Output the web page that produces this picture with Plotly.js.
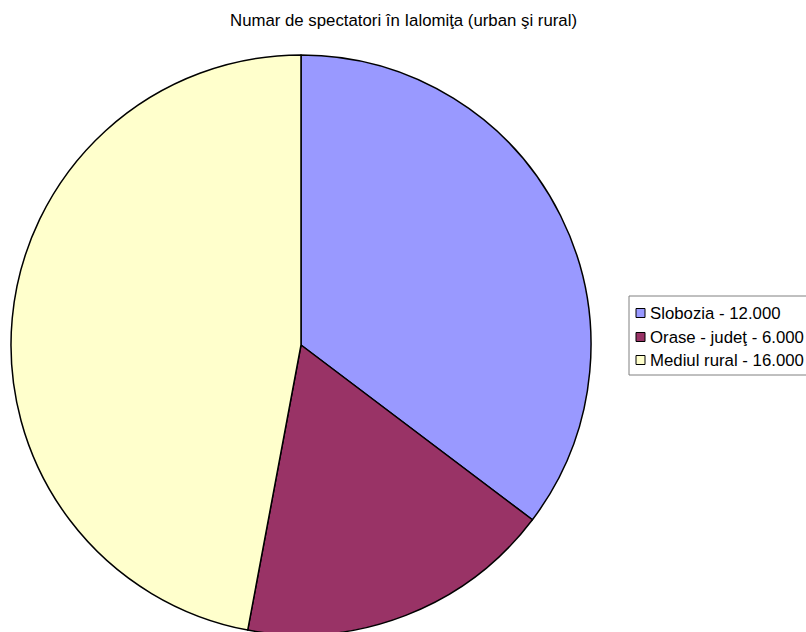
<!DOCTYPE html>
<html><head><meta charset="utf-8">
<script src="https://cdn.plot.ly/plotly-3.0.1.min.js"></script>
<style>html,body{margin:0;padding:0;overflow:hidden;background:#fff}</style>
</head><body>
<div id="chart" style="width:806px;height:640px"></div>
<script>
const categories = ["Slobozia - 12.000", "Orase - judeţ - 6.000", "Mediul rural - 16.000"];
const values = [12000, 6000, 16000];
const colors = ["#9999FF", "#993366", "#FFFFCC"];
const titleText = "Numar de spectatori în Ialomiţa (urban şi rural)";

const W = 806, H = 640;
const cx = 301, cy = 345, r = 290;
const FONT = "Liberation Sans, Arial, sans-serif";
const px = x => x / W;
const py = y => (H - y) / H;

// custom legend (pixel layout)
const legBox = {x0: 629, x1: 808, y0: 296, y1: 375};
const rowY = [313, 337, 360];
const shapes = [{type: "rect", xref: "paper", yref: "paper",
  x0: px(legBox.x0), x1: px(legBox.x1), y0: py(legBox.y1), y1: py(legBox.y0),
  line: {color: "#808080", width: 1}, fillcolor: "rgba(0,0,0,0)"}];
const annotations = [];
categories.forEach((c, i) => {
  shapes.push({type: "rect", xref: "paper", yref: "paper",
    x0: px(636), x1: px(645), y0: py(rowY[i] + 4.5), y1: py(rowY[i] - 4.5),
    line: {color: "#000", width: 1}, fillcolor: colors[i]});
  annotations.push({xref: "paper", yref: "paper", x: px(647.5), y: py(rowY[i]),
    xanchor: "left", yanchor: "middle", showarrow: false, text: c,
    font: {size: 16.8, family: FONT, color: "#000"}});
});

Plotly.newPlot("chart", [{
  type: "pie",
  labels: categories,
  values: values,
  sort: false,
  direction: "clockwise",
  rotation: 0,
  textinfo: "none",
  hoverinfo: "label+value",
  marker: {colors: colors, line: {color: "#000", width: 1.5}},
  domain: {x: [(cx - r) / W, (cx + r) / W], y: [(H - cy - r) / H, (H - cy + r) / H]}
}], {
  width: W, height: H,
  margin: {l: 0, r: 0, t: 0, b: 0},
  paper_bgcolor: "#fff",
  font: {family: FONT, color: "#000"},
  title: {text: titleText, font: {size: 16.8, family: FONT, color: "#000"}, x: 403.5 / W, xanchor: "center", y: 1 - 20 / H, yanchor: "middle"},
  showlegend: false,
  shapes: shapes,
  annotations: annotations
}, {displayModeBar: false, staticPlot: true});
</script>
</body></html>
